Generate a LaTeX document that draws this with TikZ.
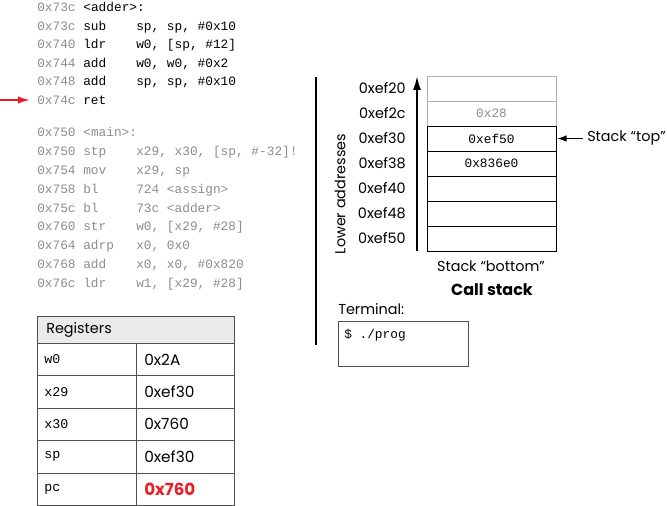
\documentclass[tikz,border=0pt]{standalone}
\usepackage{fontspec}
\setmainfont{Poppins}
\setmonofont{Liberation Mono}
\usetikzlibrary{arrows.meta}
\definecolor{codegray}{RGB}{140,140,140}
\definecolor{cellgray}{RGB}{175,175,175}
\definecolor{hdrgray}{RGB}{234,234,234}
\definecolor{gridgray}{RGB}{80,80,80}
\definecolor{pcred}{RGB}{232,30,40}
\newcommand*{\codestyle}{\ttfamily\fontsize{9.6}{11}\selectfont}
\newcommand*{\labelstyle}{\fontsize{10.8}{13}\selectfont}

\begin{document}
\begin{tikzpicture}[x=0.75pt,y=-0.75pt,
   code/.style = {anchor=base west, inner sep=0pt, font=\codestyle},
   lbl/.style  = {inner sep=0pt, font=\labelstyle},
   cell/.style = {draw, minimum width=96.75pt, minimum height=18.75pt,
                  inner sep=0pt, font=\codestyle},
   regcell/.style = {draw=gridgray, minimum height=24.3pt, inner ysep=0pt,
                  align=left}]
\useasboundingbox (0,0) rectangle (667,506);

   % function adder
   \node[code, text=codegray] (adder) at (37,11.7) {0x73c \textcolor{black}{<adder>:}};
   \foreach \addr/\op/\args [count=\i] in {0x73c/sub/{sp, sp, \#0x10},
         0x740/ldr/{w0, [sp, \#12]}, 0x744/add/{w0, w0, \#0x2},
         0x748/add/{sp, sp, \#0x10}, 0x74c/ret/{}}{
      \node[code, text=codegray] (addr\i) at (37,11.7+18.5*\i) {\addr};
      \node[code] (op\i) at (83,11.7+18.5*\i) {\op};
      \node[code] (arg\i) at (136,11.7+18.5*\i) {\args};
   }
   \coordinate (pcfrom) at (0,100);
   \draw[pcred, line width=1.3pt, -{Latex[length=9pt,width=5.5pt]}]
      (pcfrom) -- ([xshift=-5.25pt]addr5.west);

   % function main
   \node[code, text=codegray] (main) at (37,136.9) {0x750 <main>:};
   \foreach \addr/\op/\args [count=\i] in {0x750/stp/{x29, x30, [sp, \#-32]!},
         0x754/mov/{x29, sp}, 0x758/bl/{724 <assign>}, 0x75c/bl/{73c <adder>},
         0x760/str/{w0, [x29, \#28]}, 0x764/adrp/{x0, 0x0},
         0x768/add/{x0, x0, \#0x820}, 0x76c/ldr/{w1, [x29, \#28]}}{
      \node[code, text=codegray] (maddr\i) at (37,136.9+18.8*\i) {\addr};
      \node[code, text=codegray] (mop\i) at (83,136.9+18.8*\i) {\op};
      \node[code, text=codegray] (marg\i) at (136,136.9+18.8*\i) {\args};
   }

   % separator
   \coordinate (sepT) at (316,77);
   \coordinate (sepB) at (316,345);
   \draw[line width=1.3pt] (sepT) -- (sepB);

   % call stack
   \node[cell, draw=cellgray] (s0) at (491.5,88.5) {};
   \node[cell, draw=cellgray, text=codegray] (s1) at (491.5,113.5) {0x28};
   \foreach \v [count=\i from 2] in {0xef50, 0x836e0, {}, {}, {}}{
      \node[cell] (s\i) at (491.5,88.5+25*\i) {\v};
   }
   \foreach \a [count=\i from 0] in {0xef20, 0xef2c, 0xef30, 0xef38, 0xef40, 0xef48, 0xef50}{
      \node[lbl, anchor=east] (sa\i) at (406,88.5+25*\i) {\a};
   }
   \coordinate (axB) at (417,251);
   \coordinate (axT) at (417,76);
   \draw[line width=1.5pt, -{Latex[length=10.5pt,width=6pt]}] (axB) -- (axT);
   \node[lbl, rotate=90] (lower) at (340,194) {Lower addresses};

   \node[lbl, anchor=west, inner xsep=3pt] (toplbl) at (583,138.5) {Stack “top”};
   \draw[line width=1pt, -{Latex[length=7pt,width=5pt]}, shorten >=0.75pt]
      (toplbl.west) -- (s2.east);
   \node[lbl] (bottom) at (491,266) {Stack “bottom”};
   \node[lbl, font=\fontsize{12}{14}\selectfont\bfseries] (callstack) at (492,290) {Call stack};

   % terminal
   \node[lbl, anchor=west] (termlbl) at (338,309) {Terminal:};
   \node[draw=gridgray, line width=0.9pt, anchor=north west, minimum width=97.5pt,
         minimum height=33.75pt] (term) at (338,321) {};
   \node[code, anchor=west] (prog) at (344,335) {\$ ./prog};

   % registers
   \node[regcell, fill=hdrgray, anchor=north west, minimum height=20.25pt,
         text width=134.25pt, inner xsep=6.75pt, font=\labelstyle] (reghdr)
         at (37,316) {Registers};
   \foreach \r/\v [count=\i from 0] in {w0/0x2A, x29/0xef30, x30/0x760, sp/0xef30,
         pc/\textcolor{pcred}{\fontsize{12.5}{14}\selectfont\bfseries 0x760}}{
      \node[regcell, anchor=north west, text width=63.75pt, inner xsep=5.25pt,
            font=\codestyle\fontsize{10}{12}\selectfont] (rn\i)
            at (37,343+32.4*\i) {\r};
      \node[regcell, anchor=north west, text width=61.5pt, inner xsep=6pt,
            font=\fontsize{11.5}{13}\selectfont] (rv\i) at (136,343+32.4*\i) {\v};
   }
\end{tikzpicture}
\end{document}
